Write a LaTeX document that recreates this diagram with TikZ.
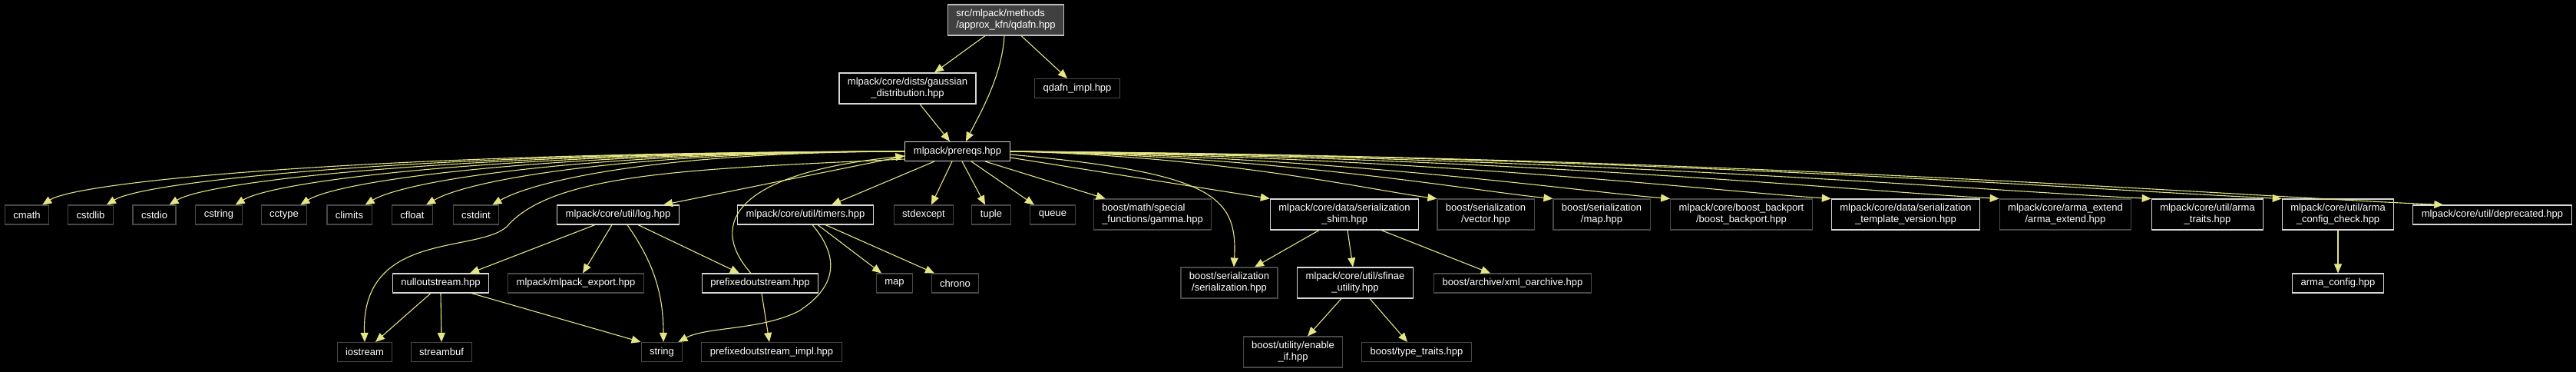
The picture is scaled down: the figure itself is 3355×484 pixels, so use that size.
\documentclass[tikz,border=0pt]{standalone}
\usepackage{fontspec}
\setmainfont{Liberation Sans}
\usetikzlibrary{positioning,calc,arrows.meta}
\definecolor{edgecol}{RGB}{229,229,131}
\definecolor{docline}{RGB}{215,215,215}
\definecolor{undocline}{RGB}{72,72,72}
\definecolor{rootfill}{RGB}{64,64,64}
\definecolor{rootline}{RGB}{191,191,191}
\tikzset{font=\fontsize{13}{15}\selectfont}

\begin{document}
\begin{tikzpicture}[x=1pt,y=-1pt]
	\tikzstyle{every node}=[align=center, text=white, fill=black, inner xsep=11pt, inner ysep=0pt, minimum height=25pt, line width=1.1pt]
	\tikzstyle{doc}=[draw=docline]
	\tikzstyle{undoc}=[draw=undocline]
	\tikzstyle{twoline}=[minimum height=40pt]
	\tikzstyle{edge}=[color=edgecol, line width=1.1pt, -{Triangle[length=12pt,width=10pt]}]
	\useasboundingbox (0,0) rectangle (3355,484);
	\fill[black] (0,0) rectangle (3355,484);

	\node[draw=rootline, fill=rootfill, twoline, align=left] (root) at (1310,26) {src/mlpack/methods\\/approx\_kfn/qdafn.hpp};
	\node[doc, twoline] (gauss) at (1182,115) {mlpack/core/dists/gaussian\\\_distribution.hpp};
	\node[undoc] (qdimpl) at (1403,115) {qdafn\_impl.hpp};
	\node[doc] (prereqs) at (1247,197) {mlpack/prereqs.hpp};

	% standard headers
	\foreach \n/\x in {cmath/35,cstdlib/118,cstdio/201,cstring/285,cctype/370,climits/455,cfloat/537,cstdint/620,stdexcept/1203,tuple/1291,queue/1371}
		\node[undoc] (\n) at (\x,279.5) {\n};
	\node[doc] (log) at (805,279.5) {mlpack/core/util/log.hpp};
	\node[doc] (timers) at (1049,279.5) {mlpack/core/util/timers.hpp};
	\node[undoc, twoline, align=left] (gamma) at (1501,279) {boost/math/special\\\_functions/gamma.hpp};
	\node[doc, twoline] (shim) at (1751,279) {mlpack/core/data/serialization\\\_shim.hpp};
	\node[undoc, twoline] (svector) at (1935,279) {boost/serialization\\/vector.hpp};
	\node[undoc, twoline] (smap) at (2086,279) {boost/serialization\\/map.hpp};
	\node[undoc, twoline] (backport) at (2268,279) {mlpack/core/boost\_backport\\/boost\_backport.hpp};
	\node[doc, twoline] (tplver) at (2482,279) {mlpack/core/data/serialization\\\_template\_version.hpp};
	\node[undoc, twoline] (armaext) at (2690,279) {mlpack/core/arma\_extend\\/arma\_extend.hpp};
	\node[doc, twoline] (armatraits) at (2875,279) {mlpack/core/util/arma\\\_traits.hpp};
	\node[doc, twoline] (armacheck) at (3045,279) {mlpack/core/util/arma\\\_config\_check.hpp};
	\node[doc] (deprec) at (3246,279.5) {mlpack/core/util/deprecated.hpp};

	\node[doc] (nullout) at (574,368.5) {nulloutstream.hpp};
	\node[undoc] (export) at (750,368.5) {mlpack/mlpack\_export.hpp};
	\node[doc] (prefout) at (990,368.5) {prefixedoutstream.hpp};
	\node[undoc] (map) at (1165,368.5) {map};
	\node[undoc] (chrono) at (1244,368.5) {chrono};
	\node[undoc, twoline] (sserial) at (1601,368) {boost/serialization\\/serialization.hpp};
	\node[doc, twoline] (sfinae) at (1765,368) {mlpack/core/util/sfinae\\\_utility.hpp};
	\node[undoc] (xmlarch) at (1970,368.5) {boost/archive/xml\_oarchive.hpp};
	\node[doc] (armaconf) at (3045,368.5) {arma\_config.hpp};

	\node[undoc] (iostream) at (475,458) {iostream};
	\node[undoc] (streambuf) at (575,458) {streambuf};
	\node[undoc] (string) at (862,458) {string};
	\node[undoc] (prefimpl) at (1005,458) {prefixedoutstream\_impl.hpp};
	\node[undoc, twoline] (enableif) at (1684,458) {boost/utility/enable\\\_if.hpp};
	\node[undoc] (typetraits) at (1845,458) {boost/type\_traits.hpp};

	% top
	\draw[edge] ([xshift=-27pt]root.south) -- ([xshift=35pt]gauss.north);
	\draw[edge] ([xshift=-2pt]root.south) .. controls (1305,100) and (1275,150) .. ([xshift=11pt]prereqs.north);
	\draw[edge] ([xshift=20pt]root.south) -- ([xshift=-13pt]qdimpl.north);
	\draw[edge] ([xshift=16pt]gauss.south) -- ([xshift=-10pt]prereqs.north);

	% prereqs to the left
	\foreach \n/\x in {cmath/54,cstdlib/139,cstdio/222,cstring/307,cctype/391,climits/477,cfloat/558,cstdint/646}
		\draw[edge] (prereqs.west) .. controls ({\x+0.4*(1179-\x)},198) and ({\x+50},235) .. ([xshift=-9pt]\n.north east);
	\draw[edge] ([yshift=-10pt]prereqs.west) .. controls (900,220) and (720,225) .. (660,295)
		.. controls (620,330) and (470,300) .. (iostream.north);
	\draw[edge] ([yshift=-6pt]prereqs.west) -- ([xshift=59pt]log.north);
	\draw[edge] ([xshift=-30pt]prereqs.south) -- ([xshift=34pt]timers.north);
	\draw[edge] ([xshift=-7pt]prereqs.south) -- ([xshift=10pt]stdexcept.north);
	\draw[edge] ([xshift=6pt]prereqs.south) -- ([xshift=-8pt]tuple.north);
	\draw[edge] ([xshift=18pt]prereqs.south) -- ([xshift=-24pt]queue.north);
	\draw[edge] ([xshift=36pt]prereqs.south) -- ([xshift=16pt]gamma.north west);

	% prereqs to the right
	\draw[edge] ([yshift=-8pt]prereqs.east) -- (shim.north west);
	\draw[edge] ([yshift=-4pt]prereqs.east) .. controls (1580,225) and (1612,255) .. ([xshift=6pt]sserial.north);
	\foreach \n/\x/\y/\s in {svector/1872/260/0,smap/2022/260/0,backport/2173/260/0,tplver/2385/260/0,armaext/2604/260/0,armatraits/2800/260/0,armacheck/2972/259/0,deprec/3183/267/40}
		\draw[edge] (prereqs.east) .. controls ({1315+0.5*(\x-1315)},203) and ({\x-0.15*(\x-1315)},{\y-12}) .. ([xshift=\s pt]\n.north west);

	% log
	\draw[edge] ([xshift=-30pt]log.south) -- ([xshift=38pt]nullout.north);
	\draw[edge] ([xshift=-8pt]log.south) -- ([xshift=9pt]export.north);
	\draw[edge] ([xshift=12pt]log.south) .. controls (850,340) and (864,380) .. ([xshift=2pt]string.north);
	\draw[edge] ([xshift=26pt]log.south) -- ([xshift=-27pt]prefout.north);

	% timers
	\draw[edge] ([xshift=9pt]timers.south) .. controls (1090,330) and (1095,370) .. (1040,405)
		.. controls (990,430) and (920,425) .. ([xshift=-6pt]string.north east);
	\draw[edge] ([xshift=16pt]timers.south) -- ([xshift=-17pt]map.north);
	\draw[edge] ([xshift=26pt]timers.south) -- ([xshift=-27pt]chrono.north);

	% streams
	\draw[edge] ([xshift=-12pt]prefout.north) .. controls (920,290) and (960,225) .. ([yshift=-6pt]prereqs.west);
	\draw[edge] ([xshift=2pt]prefout.south) -- ([xshift=-3pt]prefimpl.north);
	\draw[edge] ([xshift=-13pt]nullout.south) -- ([xshift=14pt]iostream.north);
	\draw[edge] (nullout.south) -- (streambuf.north);
	\draw[edge] ([xshift=40pt]nullout.south) -- (string.north west);

	% serialization
	\draw[edge] ([xshift=-33pt]shim.south) -- ([xshift=33pt]sserial.north);
	\draw[edge] ([xshift=4pt]shim.south) -- ([xshift=-3pt]sfinae.north);
	\draw[edge] ([xshift=48pt]shim.south) -- ([xshift=-29pt]xmlarch.north);
	\draw[edge] ([xshift=-18pt]sfinae.south) -- ([xshift=19pt]enableif.north);
	\draw[edge] ([xshift=19pt]sfinae.south) -- ([xshift=-12pt]typetraits.north);
	\draw[edge] (armacheck) -- (armaconf);
\end{tikzpicture}
\end{document}
